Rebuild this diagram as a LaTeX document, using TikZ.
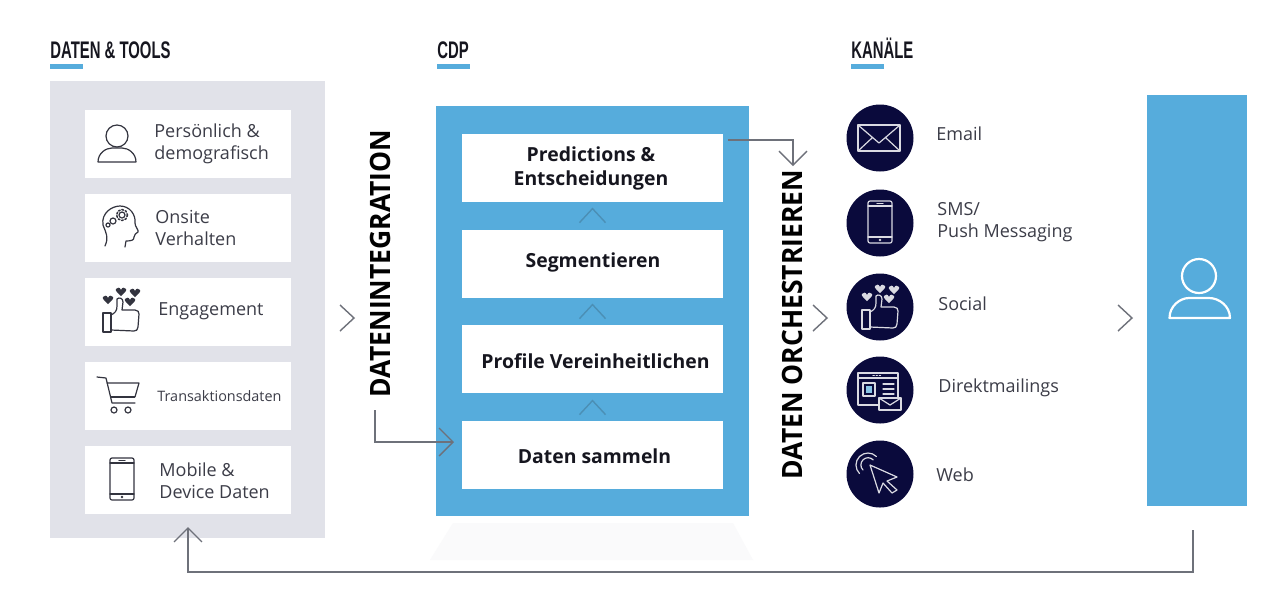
\documentclass[tikz,border=0pt]{standalone}
\usepackage{fontspec}
\setmainfont{Open Sans}
\newfontfamily\headfont[FakeStretch=0.62]{Liberation Sans}
\newfontfamily\vertfont[FakeStretch=0.945]{Open Sans}
\usetikzlibrary{arrows.meta,calc}
\definecolor{panelgray}{HTML}{E1E2E9}
\definecolor{cdpblue}{HTML}{56ACDC}
\definecolor{navy}{HTML}{0A0A3C}
\definecolor{txt}{HTML}{3C3D48}
\definecolor{boldtxt}{HTML}{16161F}
\definecolor{arrowgray}{HTML}{6E717A}
\definecolor{innerchev}{HTML}{4B8FB5}
\definecolor{iconline}{HTML}{33343F}
\definecolor{tray}{HTML}{FAFAFB}
\newcommand{\hrt}[2]{\fill (#1,#2+4) .. controls (#1-3,#2+1) and (#1-6,#2-1) .. (#1-5,#2-3) .. controls (#1-4,#2-5) and (#1-1,#2-5) .. (#1,#2-2) .. controls (#1+1,#2-5) and (#1+4,#2-5) .. (#1+5,#2-3) .. controls (#1+6,#2-1) and (#1+3,#2+1) .. (#1,#2+4) -- cycle;}
\tikzset{
  x=0.5pt,y=-0.5pt,
  card/.style={fill=white,minimum width=103pt,minimum height=34pt,inner sep=0pt},
  stepbox/.style={fill=white,minimum width=130.5pt,minimum height=34pt,inner sep=0pt},
  steptext/.style={inner sep=0pt,align=center,text=boldtxt,font=\bfseries\fontsize{9.7}{12}\selectfont},
  lbl/.style={anchor=west,inner sep=0pt,align=left,text=txt,font=\fontsize{9}{11}\selectfont},
  head/.style={anchor=base west,inner sep=0pt,text=boldtxt,font=\headfont\bfseries\fontsize{12}{13}\selectfont},
  vert/.style={rotate=90,inner sep=0pt,text=black,font=\vertfont\bfseries\fontsize{14}{16}\selectfont},
  uline/.style={fill=cdpblue,minimum width=16.5pt,minimum height=2.5pt,inner sep=0pt,anchor=north west},
  chan/.style={circle,fill=navy,minimum size=33.5pt,inner sep=0pt},
  conn/.style={draw=arrowgray,line width=0.65pt},
  tipped/.style={conn,-{Straight Barb[length=7pt,width=14pt,line width=0.65pt]}},
  icon/.style={line width=0.6pt,line join=round,line cap=round},
  chev/.pic={\draw[line width=0.7pt] (-14,-13) -- (0,0) -- (-14,13);},
  personicon/.pic={
    \draw[icon] (0,-9) circle (11);
    \draw[icon] (-19,17) .. controls (-19,8) and (-11,3) .. (-5,3) -- (5,3) .. controls (11,3) and (19,8) .. (19,17) -- cycle;},
  headicon/.pic={
    \draw[icon] (-15,19) .. controls (-11,10) and (-14,6) .. (-17,-2) .. controls (-19,-14) and (-8,-21) .. (0,-21) .. controls (10,-21) and (16,-12) .. (15,-4) .. controls (15,0) and (19,3) .. (18,5) .. controls (16,7) and (14,7) .. (14,10) .. controls (14,13) and (12,14) .. (6,14) -- (5,20);
    \draw[icon,line width=0.8pt,densely dotted] (2,-12) circle (5.5);
    \draw[icon] (2,-12) circle (3);
    \draw[icon] (-7,-6) circle (3);
    \draw[icon] (-12,-2) circle (2);},
  thumbicon/.pic={
    \draw[icon] (-18,3) rectangle (-10,22);
    \draw[icon] (-10,5) .. controls (-6,3) and (-4,1) .. (-4,-4) -- (-4,-11) .. controls (-2,-13) and (2,-12) .. (2,-8) -- (1,0) -- (14,0) .. controls (17,0) and (18,2) .. (18,4) -- (17,17) .. controls (17,20) and (15,21) .. (13,21) -- (-10,20);
    \hrt{-13}{-10}\hrt{0}{-18}\hrt{14}{-17}\hrt{9}{-8}},
  carticon/.pic={
    \draw[icon] (-21,-19) -- (-12,-18) -- (-6,7) -- (17,7);
    \draw[icon] (-11,-13) -- (21,-13) -- (17,1);
    \draw[line width=1pt] (-8,1) -- (17,1);
    \draw[icon] (-4,14) circle (3) (10,14) circle (3);},
  phoneicon/.pic={
    \draw[icon,rounded corners=1pt] (-12,-21) rectangle (12,21);
    \draw[icon] (-12,-16) -- (12,-16) (-12,15) -- (12,15) (-3,-18.5) -- (3,-18.5);
    \fill (0,18) circle (1.3);},
  mailicon/.pic={
    \draw[icon] (-21,-13) rectangle (21,13);
    \draw[icon] (-21,-13) -- (0,5) -- (21,-13) (-21,13) -- (-7,0) (21,13) -- (7,0);},
  directicon/.pic={
    \draw[icon] (-22,-17) rectangle (18,15);
    \draw[icon] (-22,-12) -- (18,-12);
    \draw[icon] (-17,-7) rectangle (-5,6);
    \fill[cdpblue!70!white] (-14,-4) rectangle (-8,3);
    \draw[icon] (3,-6) -- (14,-6) (3,-1) -- (14,-1) (3,4) -- (14,4);
    \draw[icon,densely dotted] (-7,-14.5) -- (2,-14.5);
    \draw[icon,fill=navy] (-1,8) rectangle (21,20);
    \draw[icon] (-1,8) -- (10,15) -- (21,8);},
  webicon/.pic={
    \draw[icon] (-20.5,-0.5) arc[start angle=225,end angle=45,radius=6pt];
    \draw[icon] (-17,-4) arc[start angle=225,end angle=45,radius=3.6pt];
    \draw[icon] (-10,-9) -- (17,3) -- (7,7) -- (17,16) -- (12,19) -- (3,9) -- (-1,19) -- cycle;},
}
\begin{document}
\begin{tikzpicture}
\useasboundingbox (0,0) rectangle (1280,591);
\fill[white] (0,0) rectangle (1280,591);

% headers
\node[head] (h1) at (50,58) {DATEN \& TOOLS};
\node[head] (h2) at (437,58) {CDP};
\node[head] (h3) at (851,58) {KANÄLE};
\node[uline] (u1) at (50,64) {};
\node[uline] (u2) at (437,64) {};
\node[uline] (u3) at (851,64) {};

% left panel
\node[fill=panelgray,minimum width=137.5pt,minimum height=228.5pt,inner sep=0pt] (panel) at (187.5,309.5) {};
\node[card] (c1) at (188,144) {};
\node[card] (c2) at (188,228) {};
\node[card] (c3) at (188,312) {};
\node[card] (c4) at (188,396) {};
\node[card] (c5) at (188,480) {};
\node[lbl] (t1) at (154,144) {Persönlich \&\\demografisch};
\node[lbl] (t2) at (155,227.5) {Onsite\\Verhalten};
\node[lbl] (t3) at (158,311) {Engagement};
\node[lbl,font=\fontsize{7.2}{9}\selectfont] (t4) at (157,396) {Transaktionsdaten};
\node[lbl] (t5) at (159,480.5) {Mobile \&\\Device Daten};
\pic[color=iconline] at (117,145) {personicon};
\pic[color=iconline] at (120,227) {headicon};
\pic[color=iconline] at (121,310) {thumbicon};
\pic[color=iconline] at (118,396) {carticon};
\pic[color=iconline] at (122,479) {phoneicon};

% CDP
\fill[tray] (453,523) -- (733,523) -- (753,560) -- (430,560) -- cycle;
\node[fill=cdpblue,minimum width=156.5pt,minimum height=205pt,inner sep=0pt] (cdp) at (592.5,311) {};
\node[stepbox] (s4) at (592.5,168) {};
\node[stepbox] (s3) at (592.5,264) {};
\node[stepbox] (s2) at (592.5,359) {};
\node[stepbox] (s1) at (592.5,455) {};
\node[steptext] (p4) at (591,168.5) {Predictions \&\\Entscheidungen};
\node[steptext] (p3) at (593,262) {Segmentieren};
\node[steptext] (p2) at (595.5,361) {Profile Vereinheitlichen};
\node[steptext] (p1) at (594.5,456) {Daten sammeln};
\pic[color=innerchev,rotate=90] at ($(s1.north)+(0,-20)$) {chev};
\pic[color=innerchev,rotate=90] at ($(s2.north)+(0,-20)$) {chev};
\pic[color=innerchev,rotate=90] at ($(s3.north)+(0,-21)$) {chev};

% vertical labels
\node[vert] (vi) at (380,263.5) {DATENINTEGRATION};
\node[vert] (vo) at (792,324.5) {DATEN ORCHESTRIEREN};

% channels
\node[chan] (k1) at (880,138) {};
\node[chan] (k2) at (880,223) {};
\node[chan] (k3) at (880,307) {};
\node[chan] (k4) at (880,390) {};
\node[chan] (k5) at (880,474) {};
\pic[color=white!85!navy] at (879,138) {mailicon};
\pic[color=white!85!navy] at (880,222) {phoneicon};
\pic[color=white!85!navy] at (880,307) {thumbicon};
\pic[color=white!85!navy] at (880,390) {directicon};
\pic[color=white!85!navy] at (880,474) {webicon};
\node[lbl] (l1) at (936,134) {Email};
\node[lbl] (l2) at (937,222.5) {SMS/\\Push Messaging};
\node[lbl] (l3) at (938,304) {Social};
\node[lbl] (l4) at (938,388) {Direktmailings};
\node[lbl] (l5) at (936,475) {Web};

% user
\node[fill=cdpblue,minimum width=50pt,minimum height=205.5pt,inner sep=0pt] (user) at (1197,300.5) {};
\draw[white,line width=1.1pt] (1199,276) circle (17);
\draw[white,line width=1.1pt,line join=round] (1169.5,318) .. controls (1169.5,306) and (1180,298) .. (1189,298) -- (1209,298) .. controls (1219,298) and (1230,306) .. (1230,318) -- cycle;

% chevrons between columns
\pic[color=arrowgray] at (354,318) {chev};
\pic[color=arrowgray] at (827,318) {chev};
\pic[color=arrowgray] at (1132,318) {chev};

% connectors
\coordinate (a1) at (375,410);
\coordinate (a2) at (454,442);
\draw[tipped] (a1) |- (a2);
\coordinate (b1) at (728,140);
\coordinate (b2) at (793,166);
\draw[tipped] (b1) -| (b2);
\coordinate (d1) at (1193,530);
\coordinate (d2) at (188,527);
\coordinate (d3) at (188,572);
\draw[tipped] (d1) |- (d3) -- (d2);
\end{tikzpicture}
\end{document}
